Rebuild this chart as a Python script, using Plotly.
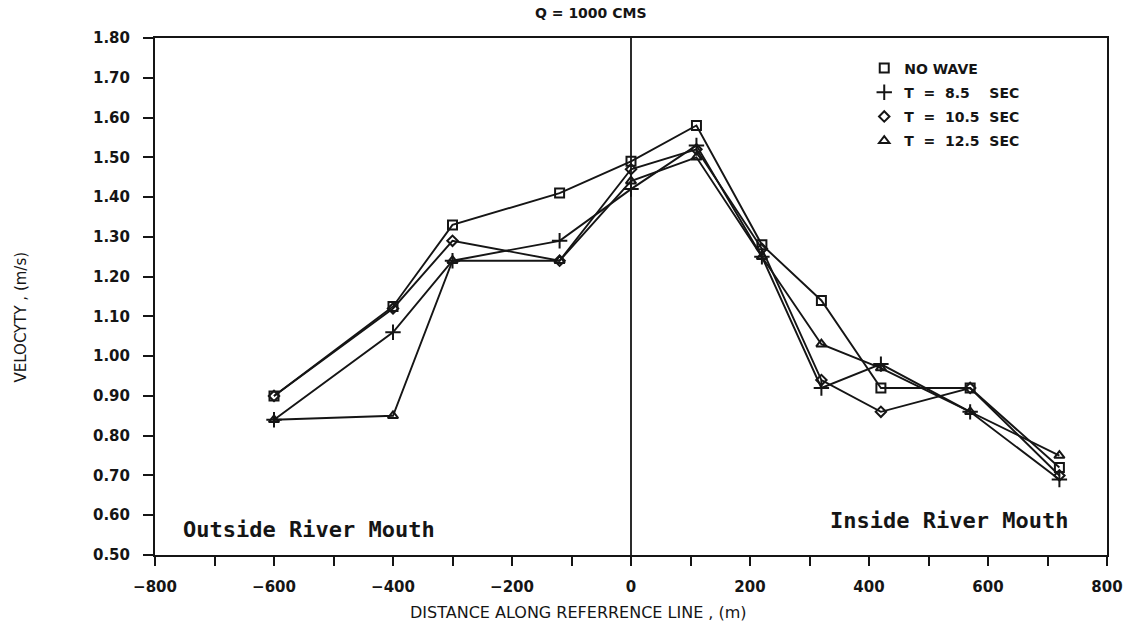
import plotly.graph_objects as go

# Stations along the reference line (m) and measured velocities (m/s)
distance = [-600, -400, -300, -120, 0, 110, 220, 320, 420, 570, 720]
no_wave = [0.90, 1.125, 1.33, 1.41, 1.49, 1.58, 1.28, 1.14, 0.92, 0.92, 0.72]
t_8_5 = [0.84, 1.06, 1.24, 1.29, 1.42, 1.53, 1.25, 0.92, 0.98, 0.86, 0.69]
t_10_5 = [0.90, 1.12, 1.29, 1.24, 1.47, 1.52, 1.27, 0.94, 0.86, 0.92, 0.70]
t_12_5 = [0.84, 0.85, 1.24, 1.24, 1.44, 1.50, 1.25, 1.03, 0.97, 0.86, 0.75]

NB = "\u00a0"
series_names = [
    "NO" + NB + "WAVE",
    "T" + NB * 2 + "=" + NB * 2 + "8.5" + NB * 4 + "SEC",
    "T" + NB * 2 + "=" + NB * 2 + "10.5" + NB * 2 + "SEC",
    "T" + NB * 2 + "=" + NB * 2 + "12.5" + NB * 2 + "SEC",
]
series_values = [no_wave, t_8_5, t_10_5, t_12_5]
symbols = ["square-open", "cross-thin-open", "diamond-open", "triangle-up-open"]
marker_sizes = [9, 11, 8, 9]

x_ticks = list(range(-800, 801, 200))
y_ticks = [round(0.5 + 0.1 * i, 2) for i in range(14)]

INK = "#151515"
TICK_FONT = dict(family="DejaVu Sans", size=15, color=INK, weight="bold")

fig = go.Figure()

for name, vals, sym, ms in zip(series_names, series_values, symbols, marker_sizes):
    fig.add_trace(go.Scatter(
        x=distance, y=vals, mode="lines+markers", name=name,
        line=dict(color=INK, width=1.9),
        marker=dict(symbol=sym, size=ms, color=INK, line=dict(color=INK, width=2)),
        showlegend=False,
    ))
    # marker-only legend entry
    fig.add_trace(go.Scatter(
        x=[None], y=[None], mode="markers", name=name, legendgroup=name,
        marker=dict(symbol=sym, size=ms, color=INK, line=dict(color=INK, width=2)),
        showlegend=True,
    ))

# vertical reference at the river mouth
fig.add_shape(type="line", xref="x", yref="paper", x0=0, x1=0, y0=0, y1=1,
              line=dict(color=INK, width=1.8))

fig.add_annotation(text="Q" + NB + "=" + NB + "1000" + NB + "CMS", xref="paper", yref="paper",
                   x=0.458, y=1.048, yanchor="middle", showarrow=False,
                   font=dict(family="DejaVu Sans", size=14, color=INK, weight="bold"))
fig.add_annotation(text="Outside River Mouth", xref="paper", yref="paper", x=0.027, y=0.05,
                   xanchor="left", yanchor="middle", showarrow=False,
                   font=dict(family="DejaVu Sans Mono", size=22, color=INK, weight="bold"))
fig.add_annotation(text="Inside River Mouth", xref="paper", yref="paper", x=0.961, y=0.066,
                   xanchor="right", yanchor="middle", showarrow=False,
                   font=dict(family="DejaVu Sans Mono", size=22, color=INK, weight="bold"))
fig.add_annotation(text="DISTANCE ALONG REFERRENCE LINE , (m)", xref="paper", yref="paper",
                   x=0.445, y=-0.112, yanchor="middle", showarrow=False,
                   font=dict(family="DejaVu Sans", size=16, color=INK))
fig.add_annotation(text="VELOCYTY , (m/s)", xref="paper", yref="paper", x=-0.152, y=0.46,
                   textangle=-90, showarrow=False,
                   font=dict(family="DejaVu Sans", size=15, color=INK))

fig.update_xaxes(
    range=[-800, 800], tickvals=x_ticks, ticktext=[str(v).replace("-", "\u2212") for v in x_ticks],
    showline=True, mirror=True, linecolor=INK, linewidth=2,
    ticks="outside", ticklen=9, tickwidth=1.8, tickcolor=INK, ticklabelstandoff=8,
    minor=dict(dtick=100, ticks="outside", ticklen=9, tickwidth=1.8, tickcolor=INK),
    showgrid=False, zeroline=False, tickfont=TICK_FONT,
)
fig.update_yaxes(
    range=[0.5, 1.8], tickvals=y_ticks, ticktext=[f"{v:.2f}" for v in y_ticks],
    showline=True, mirror=True, linecolor=INK, linewidth=2,
    ticks="outside", ticklen=10, tickwidth=1.8, tickcolor=INK, ticklabelstandoff=10,
    showgrid=False, zeroline=False, tickfont=TICK_FONT,
)

fig.update_layout(
    width=1137, height=630,
    margin=dict(l=155, r=30, t=38, b=75),
    paper_bgcolor="white", plot_bgcolor="white",
    legend=dict(x=0.745, y=0.972, xanchor="left", yanchor="top",
                bgcolor="rgba(0,0,0,0)", tracegroupgap=3,
                font=dict(family="DejaVu Sans", size=14, color=INK, weight="bold")),
)

fig.write_html("out.html")
